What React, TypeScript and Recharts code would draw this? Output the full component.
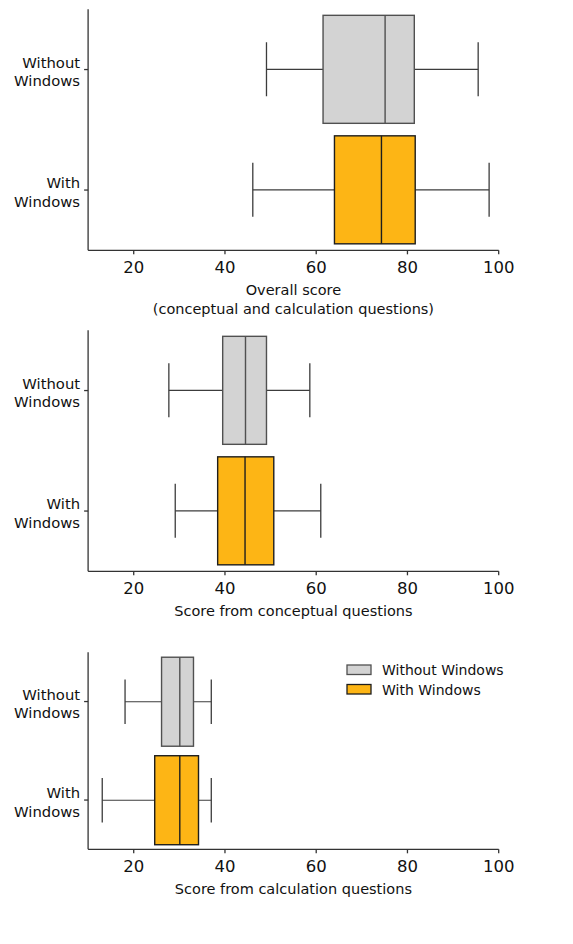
import React from "react";
import {
  Bar,
  ComposedChart,
  Legend,
  XAxis,
  YAxis,
} from "recharts";

const groups = ["Without Windows", "With Windows"];
const xTicks = [20, 40, 60, 80, 100];

// overall score
const overallLo = [49.1, 46.1];
const overallQ1 = [61.5, 64.0];
const overallMed = [75.1, 74.3];
const overallQ3 = [81.5, 81.7];
const overallHi = [95.5, 97.9];

// conceptual questions
const conceptLo = [27.7, 29.1];
const conceptQ1 = [39.5, 38.4];
const conceptMed = [44.5, 44.4];
const conceptQ3 = [49.1, 50.7];
const conceptHi = [58.6, 61.0];

// calculation questions
const calcLo = [18.1, 13.1];
const calcQ1 = [26.1, 24.6];
const calcMed = [30.1, 30.1];
const calcQ3 = [33.1, 34.2];
const calcHi = [37.0, 37.0];

const fills = ["#d3d3d3", "#fdb515"];
const edges = ["#505050", "#1e1e1e"];
const FONT = "DejaVu Sans, sans-serif";

const buildRows = (
  lo: number[],
  q1: number[],
  med: number[],
  q3: number[],
  hi: number[]
) =>
  groups.map((g, i) => ({
    group: g,
    range: [lo[i], hi[i]],
    lo: lo[i],
    q1: q1[i],
    med: med[i],
    q3: q3[i],
    hi: hi[i],
  }));

function BoxShape(props: any) {
  const { x, y, width, height, payload, index } = props;
  const k = width / (payload.hi - payload.lo);
  const px = (v: number) => x + (v - payload.lo) * k;
  const cy = y + height / 2;
  const capH = height / 4;
  const edge = edges[index];
  const whisk = "#3c3c3c";
  return (
    <g>
      <line x1={px(payload.lo)} x2={px(payload.q1)} y1={cy} y2={cy} stroke={whisk} strokeWidth={1.2} />
      <line x1={px(payload.q3)} x2={px(payload.hi)} y1={cy} y2={cy} stroke={whisk} strokeWidth={1.2} />
      <line x1={px(payload.lo)} x2={px(payload.lo)} y1={cy - capH} y2={cy + capH} stroke={whisk} strokeWidth={1.3} />
      <line x1={px(payload.hi)} x2={px(payload.hi)} y1={cy - capH} y2={cy + capH} stroke={whisk} strokeWidth={1.3} />
      <rect
        x={px(payload.q1)}
        y={y}
        width={px(payload.q3) - px(payload.q1)}
        height={height}
        fill={fills[index]}
        stroke={edge}
        strokeWidth={1.4}
      />
      <line x1={px(payload.med)} x2={px(payload.med)} y1={y} y2={y + height} stroke={edge} strokeWidth={1.4} />
    </g>
  );
}

function GroupTick({ x, y, payload }: any) {
  const [a, b] = payload.value.split(" ");
  return (
    <text x={x} y={y} textAnchor="end" fontSize={14.8} fill="#111" fontFamily={FONT}>
      <tspan x={x} dy={-1.8}>{a}</tspan>
      <tspan x={x} dy={18.4}>{b}</tspan>
    </text>
  );
}

function ValueTick({ x, y, payload }: any) {
  return (
    <text x={x} y={y} dy={16.5} textAnchor="middle" fontSize={16.5} fill="#111" fontFamily={FONT}>
      {payload.value}
    </text>
  );
}

function AxisTitle({ lines }: { lines: string[] }) {
  return (props: any) => {
    const { x, y, width } = props.viewBox;
    return (
      <text textAnchor="middle" fontSize={14.5} fill="#111" fontFamily={FONT}>
        {lines.map((l, i) => (
          <tspan key={i} x={x + width / 2} y={y + 45 + i * 18.3}>
            {l}
          </tspan>
        ))}
      </text>
    );
  };
}

function KeyBox() {
  return (
    <svg width={200} height={40} style={{ overflow: "visible" }}>
      {groups.map((g, i) => (
        <g key={g} transform={`translate(1, ${i * 19.5})`}>
          <rect x={0} y={0} width={24} height={9.5} fill={fills[i]} stroke={edges[i]} strokeWidth={1.3} />
          <text x={35} y={10} fontSize={14} fill="#111" fontFamily={FONT}>
            {g}
          </text>
        </g>
      ))}
    </svg>
  );
}

function Panel({
  rows,
  title,
  top,
  legend,
}: {
  rows: any[];
  title: string[];
  top: number;
  legend?: boolean;
}) {
  return (
    <div style={{ position: "absolute", left: 0, top }}>
      <ComposedChart
        width={573}
        height={322}
        data={rows}
        layout="vertical"
        margin={{ top: 9.3, right: 74.3, bottom: 0, left: 0 }}
        barCategoryGap="5%"
      >
        <XAxis
          type="number"
          domain={[10, 100]}
          ticks={xTicks}
          allowDataOverflow
          height={71.7}
          tickSize={4}
          tickMargin={2}
          stroke="#333"
          strokeWidth={1.3}
          tick={<ValueTick />}
          label={{ content: AxisTitle({ lines: title }) }}
        />
        <YAxis
          type="category"
          dataKey="group"
          width={88.1}
          tickSize={4}
          tickMargin={4}
          stroke="#333"
          strokeWidth={1.3}
          tick={<GroupTick />}
        />
        {legend && (
          <Legend
            content={() => <KeyBox />}
            wrapperStyle={{ position: "absolute", left: 346, top: 21.6, width: 200 }}
          />
        )}
        <Bar dataKey="range" shape={<BoxShape />} isAnimationActive={false} />
      </ComposedChart>
    </div>
  );
}

export default function App() {
  return (
    <div style={{ position: "absolute", left: 0, top: 0, width: 573, height: 944, background: "#fff" }}>
      <Panel
        rows={buildRows(overallLo, overallQ1, overallMed, overallQ3, overallHi)}
        title={["Overall score", "(conceptual and calculation questions)"]}
        top={0}
      />
      <Panel
        rows={buildRows(conceptLo, conceptQ1, conceptMed, conceptQ3, conceptHi)}
        title={["Score from conceptual questions"]}
        top={321.4}
      />
      <Panel
        rows={buildRows(calcLo, calcQ1, calcMed, calcQ3, calcHi)}
        title={["Score from calculation questions"]}
        top={643.4}
        legend
      />
    </div>
  );
}
